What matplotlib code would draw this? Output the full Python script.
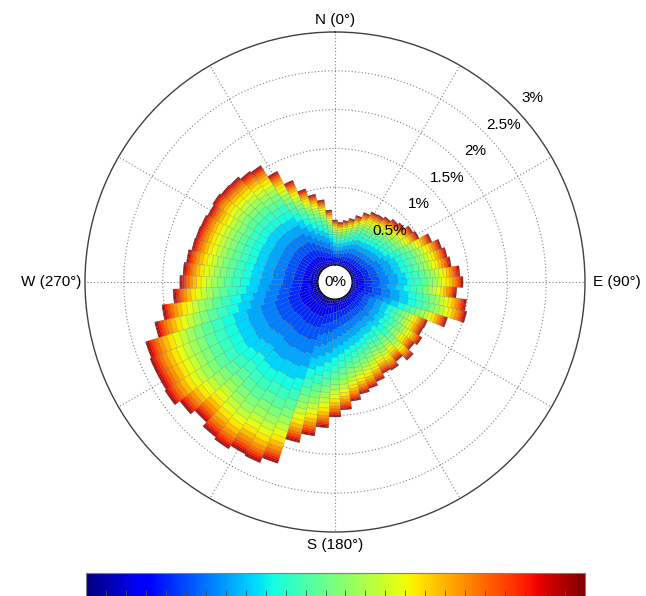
import numpy as np
import matplotlib
matplotlib.use("Agg")
import matplotlib.pyplot as plt

plt.rcParams['font.family'] = ['Liberation Sans', 'DejaVu Sans']

# direction bin centres (deg, clockwise from north)
directions = np.arange(0, 360, 5)
# total frequency per direction (%)
totals = [0.58, 0.55, 0.58, 0.62, 0.68, 0.75, 0.80, 0.81, 0.84, 0.88, 0.91, 0.97,
          1.00, 1.13, 1.22, 1.26, 1.29, 1.39, 1.43, 1.35, 1.49, 1.52, 1.30, 1.07,
          1.06, 1.11, 1.07, 1.15, 1.07, 1.13, 1.11, 1.17, 1.22, 1.26, 1.33, 1.43,
          1.52, 1.66, 1.78, 1.90, 2.23, 2.30, 2.28, 2.33, 2.30, 2.23, 2.30, 2.38,
          2.36, 2.36, 2.34, 2.16, 2.03, 1.87, 1.78, 1.74, 1.71, 1.67, 1.66, 1.65,
          1.63, 1.65, 1.63, 1.62, 1.58, 1.56, 1.39, 1.20, 1.04, 0.94, 0.85, 0.71]
# share of each of the 25 speed classes within a petal (%)
speed_share = [1.5, 2, 2.5, 6, 7, 8, 8.5, 8.5, 8, 7, 6.5, 6, 5, 4.5, 4,
               4, 3.5, 3, 2.5, 2, 1.7, 1.4, 1, 0.7, 0.4]
ring_values = [0.5, 1, 1.5, 2, 2.5, 3]
ring_labels = ['0.5%', '1%', '1.5%', '2%', '2.5%', '3%']

W, H = 646, 596
fig = plt.figure(figsize=(W / 100, H / 100), dpi=100)
cx, cy, R = 335, 282, 250
ax = fig.add_axes([(cx - R) / W, (H - cy - R) / H, 2 * R / W, 2 * R / H],
                  projection='polar')
ax.set_theta_zero_location('N')
ax.set_theta_direction(-1)

share = np.array(speed_share) / np.sum(speed_share)
tot = np.array(totals)
theta = np.deg2rad(directions)
width = np.deg2rad(5)
cmap = plt.get_cmap('jet')
nbin = len(share)
bottom = np.zeros(len(tot))
for k in range(nbin):
    h = tot * share[k]
    ax.bar(theta, h, width=width, bottom=bottom, color=cmap(k / (nbin - 1)),
           edgecolor=(0.15, 0.15, 0.15, 0.2), linewidth=0.4, zorder=3)
    bottom += h

ax.set_rorigin(-0.22)
ax.set_ylim(0, 3)
ax.set_rticks(ring_values[:-1])
ax.set_yticklabels([])
ax.set_xticks(np.deg2rad(np.arange(0, 360, 30)))
ax.set_xticklabels([])
ax.grid(True, color='0.5', linestyle=(0, (1, 2)), linewidth=0.8, zorder=4)
ax.set_axisbelow(False)
ax.spines['polar'].set_color('0.25')
ax.spines['polar'].set_linewidth(1.0)

for v, lab in zip(ring_values, ring_labels):
    ax.text(np.deg2rad(47), v + 0.25, lab, ha='center', va='center',
            fontsize=11, zorder=6)
ax.text(0.5, 0.5, '0%', transform=ax.transAxes, ha='center', va='center',
        fontsize=11, zorder=6)

fig.text(cx / W, 1 - 20 / H, 'N (0°)', ha='center', va='center', fontsize=11)
fig.text(cx / W, 1 - 545 / H, 'S (180°)', ha='center', va='center', fontsize=11)
fig.text(593 / W, 1 - cy / H, 'E (90°)', ha='left', va='center', fontsize=11)
fig.text(81 / W, 1 - cy / H, 'W (270°)', ha='right', va='center', fontsize=11)

# colour bar, cut off by the bottom of the image
cax = fig.add_axes([86 / W, -6 / H, 499 / W, (H - 573 + 6) / H])
grad = np.linspace(0, 1, 256).reshape(1, -1)
cax.imshow(grad, aspect='auto', cmap=cmap, extent=[0, nbin, 0, 1])
cax.set_xlim(0, nbin)
cax.set_ylim(0, 1)
cax.set_xticks(np.arange(1, nbin))
cax.set_xticklabels([])
cax.set_yticks([])
cax.tick_params(axis='x', direction='in', length=9, width=0.6, color='0.3')
for s in cax.spines.values():
    s.set_color('0.5')
    s.set_linewidth(0.8)

fig.savefig('out.png', dpi=100)
